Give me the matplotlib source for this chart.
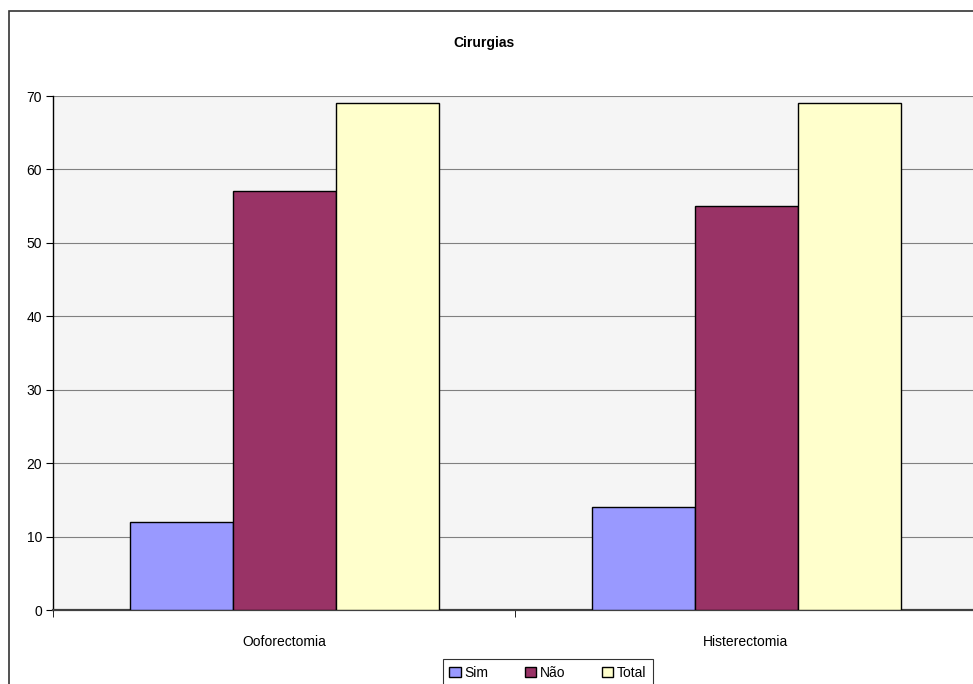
import numpy as np
import matplotlib.pyplot as plt
from matplotlib.patches import Rectangle

plt.rcParams['font.family'] = ['Liberation Sans', 'DejaVu Sans']

# data
categorias = ['Ooforectomia', 'Histerectomia']
series = ['Sim', 'Não', 'Total']
sim = [12, 14]
nao = [57, 55]
total = [69, 69]
cores = ['#9999FF', '#993366', '#FFFFCC']

fig = plt.figure(figsize=(9.73, 6.84), dpi=100)

# outer chart border (runs off the right and bottom edges)
fig.patches.append(Rectangle((9/973, -0.1), 1.2, 1 - 11/684 + 0.1,
                             transform=fig.transFigure, fill=False,
                             edgecolor='#333333', linewidth=1.2))

ax = fig.add_axes([53/973, 1 - 610/684, 924/973, (610 - 96)/684])
ax.set_facecolor('#F5F5F5')

x = np.arange(len(categorias))
w = 103/462
vals = [sim, nao, total]
for k in range(3):
    ax.bar(x + (k - 1)*w, vals[k], width=w, color=cores[k],
           edgecolor='black', linewidth=1, label=series[k], zorder=3)

ax.set_xlim(-0.5, 1.5)
ax.set_ylim(0, 70)
ax.set_yticks(range(0, 71, 10))
ax.yaxis.grid(True, color='#808080', linewidth=0.8, zorder=0)
ax.set_axisbelow(True)

ax.set_xticks(x)
ax.set_xticklabels(categorias, fontsize=10)
ax.tick_params(axis='x', which='major', length=0, pad=18)
ax.set_xticks([-0.5, 0.5, 1.5], minor=True)
ax.tick_params(axis='x', which='minor', length=5, color='black')
ax.tick_params(axis='y', length=5, labelsize=10, pad=3)

ax.spines['top'].set_visible(False)
ax.spines['right'].set_visible(False)
ax.spines['left'].set_color('black')
ax.spines['left'].set_linewidth(1)
ax.spines['bottom'].set_color('#404040')
ax.spines['bottom'].set_linewidth(1.6)

fig.text(484/973, 1 - 43/684, 'Cirurgias', ha='center', va='center',
         fontsize=10, fontweight='bold')

leg = fig.legend(loc='upper center', bbox_to_anchor=(548/973, 1 - 659/684),
                 ncol=3, frameon=True, fancybox=False, fontsize=10,
                 handlelength=0.8, handleheight=0.8, handletextpad=0.3,
                 columnspacing=2.6, borderpad=0.5, borderaxespad=0)
leg.get_frame().set_edgecolor('black')
leg.get_frame().set_linewidth(0.8)

plt.savefig('out.png', dpi=100)
